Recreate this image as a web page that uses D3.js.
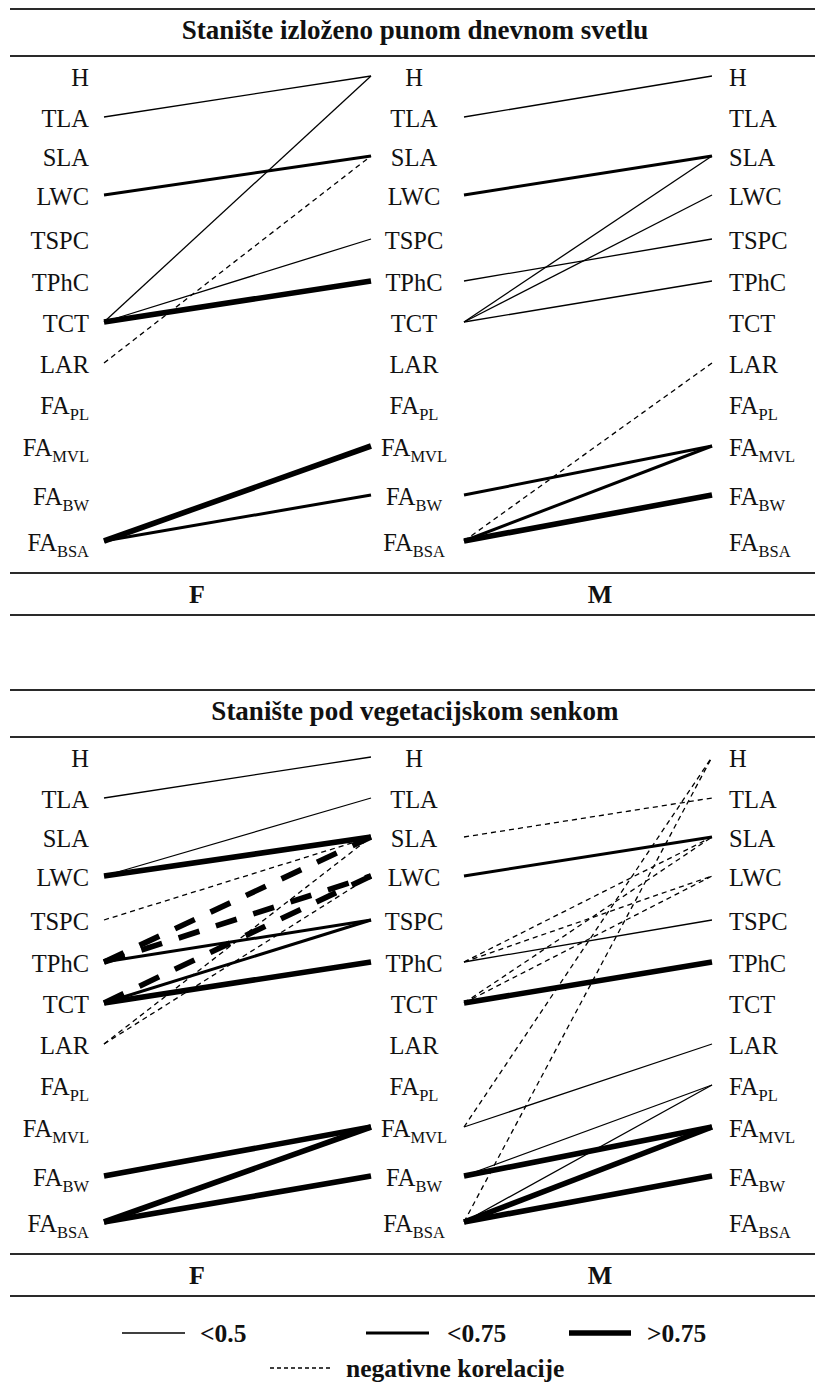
<!DOCTYPE html>
<html>
<head>
<meta charset="utf-8">
<script src="https://cdn.jsdelivr.net/npm/d3@7"></script>
<style>
  body { margin: 0; background: #fff; }
  svg { display: block; }
  svg text { font-family: "Liberation Serif", "DejaVu Serif", serif; fill: #111; }
</style>
</head>
<body>
<svg id="chart" width="815" height="1389"></svg>
<script>
// ---- data -------------------------------------------------------------
const traits = ["H", "TLA", "SLA", "LWC", "TSPC", "TPhC", "TCT", "LAR",
                "FA_PL", "FA_MVL", "FA_BW", "FA_BSA"];
const panelTitles = ["Stanište izloženo punom dnevnom svetlu",
                     "Stanište pod vegetacijskom senkom"];
const sexes = ["F", "M"];
const strengthClasses = ["<0.5", "<0.75", ">0.75"];
const negativeLabel = "negativne korelacije";

// correlations: [trait on the left, trait on the right, strength class, sign]
const sunF = [
  ["TLA", "H", "<0.5", 1],
  ["TCT", "H", "<0.5", 1],
  ["LWC", "SLA", "<0.75", 1],
  ["LAR", "SLA", "<0.5", -1],
  ["TCT", "TSPC", "<0.5", 1],
  ["TCT", "TPhC", ">0.75", 1],
  ["FA_BSA", "FA_MVL", ">0.75", 1],
  ["FA_BSA", "FA_BW", "<0.75", 1]
];
const sunM = [
  ["TLA", "H", "<0.5", 1],
  ["LWC", "SLA", "<0.75", 1],
  ["TCT", "SLA", "<0.5", 1],
  ["TCT", "LWC", "<0.5", 1],
  ["TPhC", "TSPC", "<0.5", 1],
  ["TCT", "TPhC", "<0.5", 1],
  ["FA_BSA", "LAR", "<0.5", -1],
  ["FA_BW", "FA_MVL", "<0.75", 1],
  ["FA_BSA", "FA_MVL", "<0.75", 1],
  ["FA_BSA", "FA_BW", ">0.75", 1]
];
const shadeF = [
  ["TLA", "H", "<0.5", 1],
  ["LWC", "TLA", "<0.5", 1],
  ["LWC", "SLA", ">0.75", 1],
  ["TSPC", "SLA", "<0.5", -1],
  ["TPhC", "SLA", ">0.75", -1],
  ["TPhC", "LWC", ">0.75", -1],
  ["TCT", "LWC", ">0.75", -1],
  ["LAR", "SLA", "<0.5", -1],
  ["LAR", "LWC", "<0.5", -1],
  ["TPhC", "TSPC", "<0.75", 1],
  ["TCT", "TSPC", "<0.75", 1],
  ["TCT", "TPhC", ">0.75", 1],
  ["FA_BW", "FA_MVL", ">0.75", 1],
  ["FA_BSA", "FA_MVL", ">0.75", 1],
  ["FA_BSA", "FA_BW", ">0.75", 1]
];
const shadeM = [
  ["SLA", "TLA", "<0.5", -1],
  ["LWC", "SLA", "<0.75", 1],
  ["TPhC", "SLA", "<0.5", -1],
  ["TPhC", "LWC", "<0.5", -1],
  ["TCT", "SLA", "<0.5", -1],
  ["TCT", "LWC", "<0.5", -1],
  ["TPhC", "TSPC", "<0.5", 1],
  ["TCT", "TPhC", ">0.75", 1],
  ["FA_MVL", "H", "<0.5", -1],
  ["FA_BSA", "H", "<0.5", -1],
  ["FA_MVL", "LAR", "<0.5", 1],
  ["FA_BW", "FA_PL", "<0.5", 1],
  ["FA_BSA", "FA_PL", "<0.5", 1],
  ["FA_BW", "FA_MVL", ">0.75", 1],
  ["FA_BSA", "FA_MVL", ">0.75", 1],
  ["FA_BSA", "FA_BW", ">0.75", 1]
];

// ---- layout -----------------------------------------------------------
const W = 815;
const panelTops = [9, 690];
const firstRow = 67;                       // H row below the panel top
const rowOffsets = [0, 41, 80, 119, 163, 205, 246, 287, 328, 370, 419, 465];
const labelX = { left: 89, mid: 414, right: 729 };
const linkX = { F: [104, 371], M: [464, 712] };
const sexX = { F: 197, M: 600 };

const widthScale = d3.scaleOrdinal(strengthClasses, [1.3, 3, 5.6]);
const dashFor = w => `${(w * 3.9).toFixed(1)},${(w * 3.1).toFixed(1)}`;

const svg = d3.select("#chart");
svg.append("rect").attr("width", W).attr("height", 1389).attr("fill", "#fff");

function traitLabel(text, t) {
  const [base, sub] = t.split("_");
  text.append("tspan").text(base);
  if (sub) text.append("tspan").attr("font-size", 16.5).attr("dy", 6).text(sub);
}

function drawPanel(top, title, links) {
  const g = svg.append("g");
  const y = d3.scaleOrdinal(traits, rowOffsets.map(o => top + firstRow + o));

  // horizontal rules
  [0, 47, 564, 606].forEach(dy => {
    g.append("line")
      .attr("x1", 10).attr("x2", W)
      .attr("y1", top + dy).attr("y2", top + dy)
      .attr("stroke", "#2a2a2a").attr("stroke-width", 1.8);
  });

  g.append("text")
    .attr("x", 415).attr("y", top + 30)
    .attr("text-anchor", "middle")
    .attr("font-weight", "bold").attr("font-size", 27)
    .text(title);

  sexes.forEach(s => {
    g.append("text")
      .attr("x", sexX[s]).attr("y", top + 594)
      .attr("text-anchor", "middle")
      .attr("font-weight", "bold").attr("font-size", 26)
      .text(s);
  });

  // trait columns
  const cols = [
    { x: labelX.left, anchor: "end" },
    { x: labelX.mid, anchor: "middle" },
    { x: labelX.right, anchor: "start" }
  ];
  cols.forEach(c => {
    g.append("g").selectAll("text")
      .data(traits)
      .join("text")
      .attr("x", c.x)
      .attr("y", d => y(d) + 10)
      .attr("text-anchor", c.anchor)
      .attr("font-size", 24.5)
      .each(function (d) { traitLabel(d3.select(this), d); });
  });

  // correlation links
  sexes.forEach((s, i) => {
    const [x0, x1] = linkX[s];
    g.append("g").selectAll("line")
      .data(links[i])
      .join("line")
      .attr("x1", x0).attr("x2", x1)
      .attr("y1", d => y(d[0]))
      .attr("y2", d => y(d[1]))
      .attr("stroke", "#000")
      .attr("stroke-width", d => widthScale(d[2]))
      .attr("stroke-dasharray", d => d[3] < 0 ? dashFor(widthScale(d[2])) : null)
      .attr("stroke-linecap", "butt");
  });
}

drawPanel(panelTops[0], panelTitles[0], [sunF, sunM]);
drawPanel(panelTops[1], panelTitles[1], [shadeF, shadeM]);

// ---- legend -----------------------------------------------------------
const legend = svg.append("g");
const legendItems = [
  { cls: "<0.5", x0: 122, x1: 185, tx: 200 },
  { cls: "<0.75", x0: 366, x1: 429, tx: 447 },
  { cls: ">0.75", x0: 569, x1: 631, tx: 647 }
];
legendItems.forEach(it => {
  legend.append("line")
    .attr("x1", it.x0).attr("x2", it.x1).attr("y1", 1333).attr("y2", 1333)
    .attr("stroke", "#000").attr("stroke-width", widthScale(it.cls));
  legend.append("text").attr("x", it.tx).attr("y", 1342)
    .attr("font-weight", "bold").attr("font-size", 25.5).text(it.cls);
});
legend.append("line")
  .attr("x1", 270).attr("x2", 333).attr("y1", 1368).attr("y2", 1368)
  .attr("stroke", "#000").attr("stroke-width", 1.3)
  .attr("stroke-dasharray", "4,3");
legend.append("text").attr("x", 346).attr("y", 1377)
  .attr("font-weight", "bold").attr("font-size", 25.5).text(negativeLabel);
</script>
</body>
</html>
